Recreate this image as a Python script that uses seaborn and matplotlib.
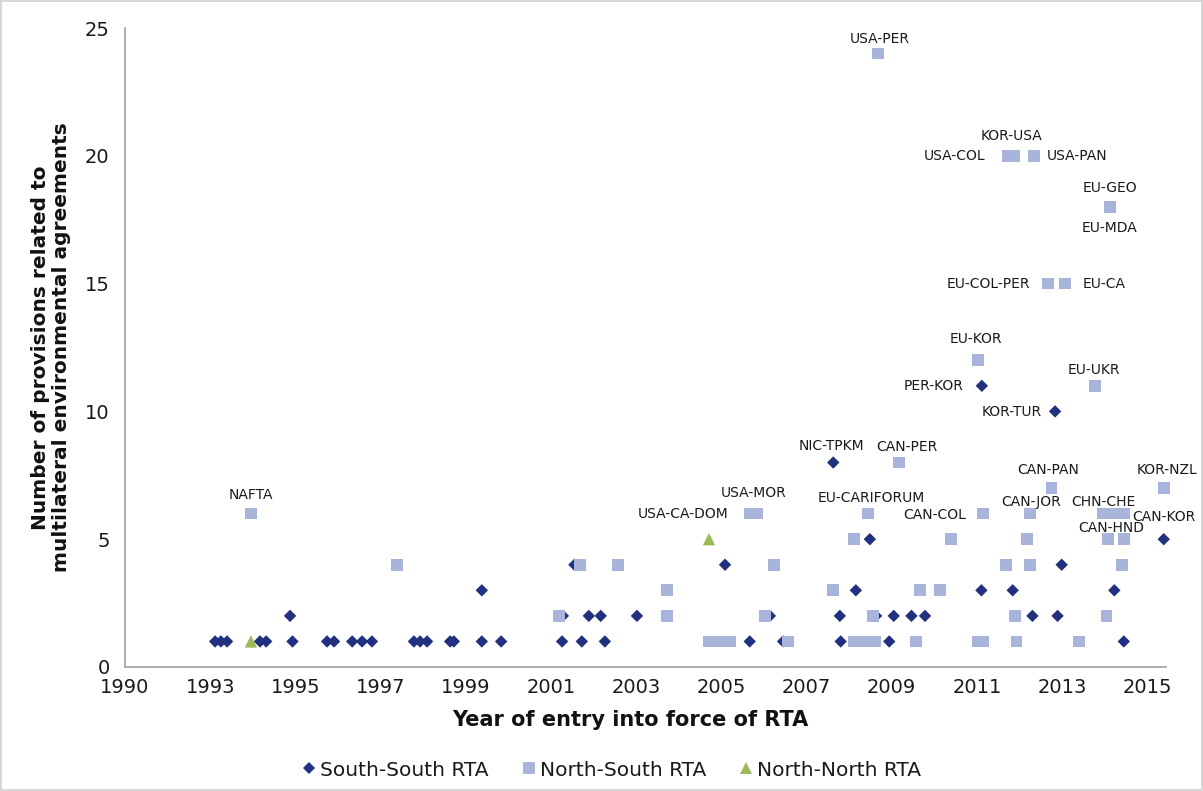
import matplotlib
matplotlib.use("Agg")
import matplotlib.pyplot as plt
from matplotlib.lines import Line2D
from matplotlib.patches import Rectangle
import numpy as np
import pandas as pd
import seaborn as sns

# ---- data: year of entry into force (decimal years) and number of MEA-related provisions ----
south_south_year = [
    1993.14, 1993.28, 1993.43, 1994.23, 1994.38, 1995.02, 1995.86, 1996.03, 1996.47, 1996.71,
    1996.95, 1997.97, 1998.12, 1998.29, 1998.85, 1998.94, 1999.62, 2000.09, 2001.57, 2002.05,
    2002.61, 2006.13, 2006.94, 2008.34, 2009.52, 2015.22,
    1994.96, 2001.59, 2002.22, 2002.51, 2003.39, 2006.62, 2008.32, 2009.20, 2009.63, 2010.06,
    2010.39, 2013.00, 2013.61,
    1999.62, 2008.71, 2011.76, 2012.52, 2014.99,
    2001.87, 2005.53, 2013.71,
    2009.05, 2016.19,
    2008.16, 2013.55, 2011.77,
]
south_south_count = [
    1, 1, 1, 1, 1, 1, 1, 1, 1, 1,
    1, 1, 1, 1, 1, 1, 1, 1, 1, 1,
    1, 1, 1, 1, 1, 1,
    2, 2, 2, 2, 2, 2, 2, 2, 2, 2,
    2, 2, 2,
    3, 3, 3, 3, 3,
    4, 4, 4,
    5, 5,
    8, 10, 11,
]
south_south_name = [""] * 48 + ["CAN-KOR", "NIC-TPKM", "KOR-TUR", "PER-KOR"]

north_south_year = [
    2005.14, 2005.31, 2005.48, 2005.65, 2007.06, 2008.66, 2008.83, 2009.00, 2009.17, 2010.17,
    2011.67, 2011.80, 2012.61, 2014.13,
    2001.49, 2004.12, 2006.50, 2009.12, 2012.57, 2014.80,
    2004.12, 2008.16, 2010.27, 2010.76,
    1997.56, 2002.00, 2002.93, 2006.72, 2012.35, 2012.94, 2015.17,
    2008.66, 2011.02, 2012.86, 2014.84, 2015.22,
    1994.01, 2006.13, 2006.30, 2009.00, 2011.80, 2012.94, 2014.70, 2014.87, 2015.05, 2015.22,
    2013.46, 2016.19,
    2009.75,
    2014.52,
    2011.67,
    2013.37, 2013.79,
    2014.88, 2014.88,
    2012.40, 2012.55, 2013.03,
    2009.24,
]
north_south_count = [
    1, 1, 1, 1, 1, 1, 1, 1, 1, 1,
    1, 1, 1, 1,
    2, 2, 2, 2, 2, 2,
    3, 3, 3, 3,
    4, 4, 4, 4, 4, 4, 4,
    5, 5, 5, 5, 5,
    6, 6, 6, 6, 6, 6, 6, 6, 6, 6,
    7, 7,
    8,
    11,
    12,
    15, 15,
    18, 18,
    20, 20, 20,
    24,
]
north_south_name = (
    [""] * 14 + [""] * 6 + [""] * 4 + [""] * 7
    + ["", "", "", "CAN-HND", ""]
    + ["NAFTA", "USA-CA-DOM", "USA-MOR", "EU-CARIFORUM", "CAN-COL", "CAN-JOR", "CHN-CHE", "", "", ""]
    + ["CAN-PAN", "KOR-NZL"]
    + ["CAN-PER"]
    + ["EU-UKR"]
    + ["EU-KOR"]
    + ["EU-COL-PER", "EU-CA"]
    + ["EU-GEO", "EU-MDA"]
    + ["USA-COL", "KOR-USA", "USA-PAN"]
    + ["USA-PER"]
)

north_north_year = [1994.01, 2005.14]
north_north_count = [1, 5]
north_north_name = ["", ""]

series_names = ["South-South RTA", "North-South RTA", "North-North RTA"]
x_tick_labels = ["1990", "1993", "1995", "1997", "1999", "2001", "2003",
                 "2005", "2007", "2009", "2011", "2013", "2015"]
y_ticks = [0, 5, 10, 15, 20, 25]

# ---- styling ----
colors = {"South-South RTA": "#21307f", "North-South RTA": "#a9b4da", "North-North RTA": "#9bbb59"}
markers = {"South-South RTA": "D", "North-South RTA": "s", "North-North RTA": "^"}
sizes = {"South-South RTA": 40, "North-South RTA": 71, "North-North RTA": 80}
legend_ms = {"South-South RTA": 6, "North-South RTA": 8, "North-North RTA": 8}

# label placement: (dx px, dy px, horizontal alignment)
label_place = {
    "USA-PER": (2, 15, "center"), "KOR-USA": (-2, 20, "center"),
    "USA-COL": (-22, 0, "right"), "USA-PAN": (13, 0, "left"),
    "EU-GEO": (0, 19, "center"), "EU-MDA": (0, -21, "center"),
    "EU-COL-PER": (-18, 0, "right"), "EU-CA": (18, 0, "left"),
    "EU-KOR": (-2, 21, "center"), "PER-KOR": (-18, 0, "right"),
    "EU-UKR": (-1, 16, "center"), "KOR-TUR": (-13, -1, "right"),
    "NAFTA": (0, 19, "center"), "CAN-CHL": (0, 19, "center"),
    "USA-CA-DOM": (-21, 0, "right"), "USA-MOR": (-3, 21, "center"),
    "NIC-TPKM": (-2, 17, "center"), "CAN-PER": (8, 16, "center"),
    "EU-CARIFORUM": (3, 16, "center"), "CAN-COL": (-17, -1, "right"),
    "CAN-PAN": (-3, 18, "center"), "KOR-NZL": (3, 18, "center"),
    "CAN-JOR": (1, 12, "center"), "CHN-CHE": (1, 12, "center"),
    "CAN-HND": (3, 11, "center"), "CAN-KOR": (0, 22, "center"),
}

frames = []
for name, yrs, cnt, lab in [
    (series_names[0], south_south_year, south_south_count, south_south_name),
    (series_names[1], north_south_year, north_south_count, north_south_name),
    (series_names[2], north_north_year, north_north_count, north_north_name),
]:
    frames.append(pd.DataFrame({"year": yrs, "provisions": cnt, "type": name, "label": lab}))
df = pd.concat(frames, ignore_index=True)

sns.set_style("white")
plt.rcParams["font.family"] = ["DejaVu Sans"]

fig = plt.figure(figsize=(12.03, 7.91), dpi=100)
ax = fig.add_axes([125 / 1203, 1 - 667 / 791, (1166 - 125) / 1203, (667 - 28) / 791])

sns.scatterplot(
    data=df, x="year", y="provisions", hue="type", style="type", size="type",
    palette=colors, markers=markers, sizes=sizes, linewidth=0, legend=False,
    ax=ax, clip_on=False,
)

x_start, x_step = 1990.95, 2.07
ax.set_xlim(x_start, x_start + 12.22 * x_step)
ax.set_ylim(0, 25)
ax.set_xticks(x_start + x_step * np.arange(len(x_tick_labels)))
ax.set_xticklabels(x_tick_labels)
ax.set_yticks(y_ticks)

axis_grey = "#a0a0a0"
for side in ["top", "right"]:
    ax.spines[side].set_visible(False)
for side in ["left", "bottom"]:
    ax.spines[side].set_color(axis_grey)
    ax.spines[side].set_linewidth(1.2)
ax.tick_params(axis="both", direction="out", length=5, width=1.2, color=axis_grey,
               labelsize=14, labelcolor="#1a1a1a")
ax.tick_params(axis="x", pad=3)
ax.tick_params(axis="y", pad=6)
ax.grid(False)

ax.set_xlabel("Year of entry into force of RTA", fontsize=15, fontweight="bold",
              color="#111111", va="center")
ax.xaxis.set_label_coords((630.5 - 125) / 1041, (667 - 720) / 639)
ax.set_ylabel("Number of provisions related to\nmultilateral environmental agreements",
              fontsize=14.5, fontweight="bold", color="#111111", va="center", linespacing=1.15)
ax.yaxis.set_label_coords((51 - 125) / 1041, 0.5)

for _, row in df[df["label"] != ""].iterrows():
    dx, dy, ha = label_place[row["label"]]
    ax.annotate(row["label"], xy=(row["year"], row["provisions"]), xytext=(dx, dy),
                textcoords="offset pixels", ha=ha, va="center", fontsize=10,
                color="#1a1a1a", annotation_clip=False)

handles = [
    Line2D([], [], linestyle="none", marker=markers[n], color=colors[n],
           markersize=legend_ms[n], markeredgewidth=0, label=n)
    for n in series_names
]
fig.legend(handles=handles, loc="center", bbox_to_anchor=(611 / 1203, 1 - 770 / 791),
           ncol=3, frameon=False, fontsize=14.5, handlelength=0.8, handletextpad=0.15,
           columnspacing=1.6, labelcolor="#1a1a1a")

fig.patches.append(Rectangle((0.001, 0.001), 0.998, 0.998, transform=fig.transFigure,
                             fill=False, edgecolor="#d0d0d0", linewidth=1.2))

fig.savefig("out.png", dpi=100)
